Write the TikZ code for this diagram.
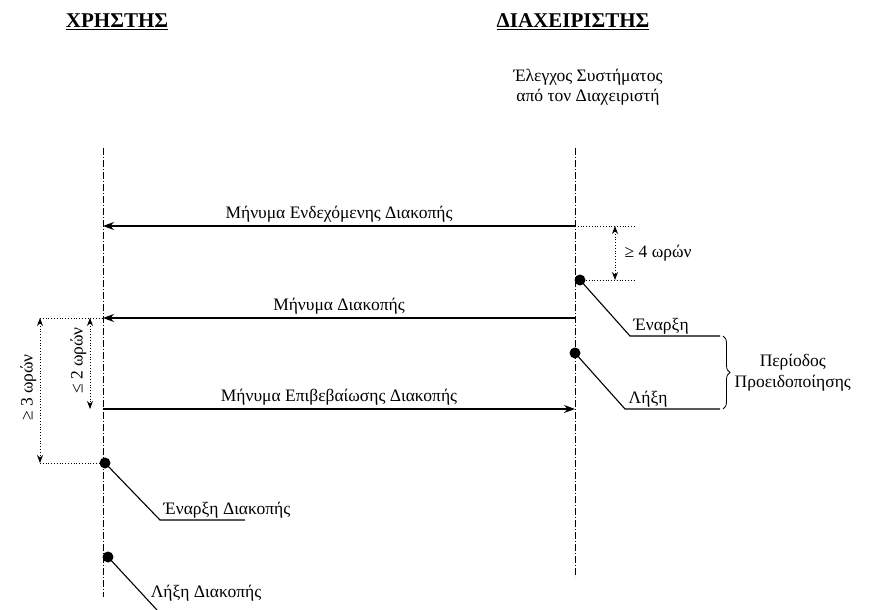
\documentclass[tikz,border=0pt]{standalone}
\usepackage{fontspec}
\setmainfont{Liberation Serif}
\usepackage{tikz}
\usetikzlibrary{arrows.meta,positioning,decorations.pathreplacing}

\begin{document}
\begin{tikzpicture}[x=1pt,y=-1pt,thick,
                    font=\fontsize{17.5}{20.5}\selectfont,
                    lifeline/.style={thin,dash pattern=on 7pt off 2pt on 1pt off 2pt},
                    msg/.style={-{Stealth[length=11pt,width=8pt]},line width=1.2pt},
                    gap/.style={dotted,thick},
                    span/.style={dotted,thick,{Stealth[length=8pt,width=6pt]}-{Stealth[length=8pt,width=6pt]}},
                    leader/.style={line width=1.1pt},
                    event/.style={circle,fill,inner sep=0pt,minimum size=11pt},
                    header/.style={font=\fontsize{21}{24}\selectfont\bfseries}
                    ]
  \useasboundingbox (0,0) rectangle (886,610);

  % headers
  \node[header] (user) at (117,22) {\underline{ΧΡΗΣΤΗΣ}};
  \node[header] (admin) at (573,22) {\underline{ΔΙΑΧΕΙΡΙΣΤΗΣ}};
  \node[align=center] (check) at (588,87) {Έλεγχος Συστήματος\\από τον Διαχειριστή};

  % lifelines
  \coordinate (u top) at (103,148);
  \coordinate (u bot) at (103,597);
  \coordinate (a top) at (575,148);
  \coordinate (a bot) at (575,577);
  \draw[lifeline] (u top) -- (u bot);
  \draw[lifeline] (a top) -- (a bot);

  % messages
  \coordinate (m1 a) at (575,226);
  \coordinate (m1 u) at (103,226);
  \coordinate (m2 a) at (575,318);
  \coordinate (m2 u) at (103,318);
  \coordinate (m3 u) at (103,409);
  \coordinate (m3 a) at (575,409);
  \draw[msg] (m1 a) -- node[above] {Μήνυμα Ενδεχόμενης Διακοπής} (m1 u);
  \draw[msg] (m2 a) -- node[above] {Μήνυμα Διακοπής} (m2 u);
  \draw[msg] (m3 u) -- node[above] {Μήνυμα Επιβεβαίωσης Διακοπής} (m3 a);

  % warning period on the admin side
  \node[event] (start) at (580,280) {};
  \node[event] (end) at (575,353) {};
  \coordinate (start knee) at (630,336);
  \coordinate (start tail) at (720,336);
  \coordinate (end knee) at (625,409);
  \coordinate (end tail) at (720,409);
  \draw[leader] (start.center) -- (start knee) -- (start tail);
  \draw[leader] (end.center) -- (end knee) -- (end tail);
  \node[above right=-2pt and 0pt of start knee] (start lbl) {Έναρξη};
  \node[above right=-2pt and 0pt of end knee] (end lbl) {Λήξη};
  \draw[thick,decorate,decoration={brace,amplitude=7pt}] (723,336) -- (723,409)
    node[midway,right=8pt,align=center] (period) {Περίοδος\\Προειδοποίησης};

  % at least four hours
  \coordinate (g4 top) at (635,226);
  \coordinate (g4 bot) at (635,280);
  \coordinate (g4 a) at (615,226);
  \coordinate (g4 b) at (615,280);
  \draw[gap] (m1 a) -- (g4 top);
  \draw[gap] (start) -- (g4 bot);
  \draw[span] (g4 a) -- node[right=6pt] (g4 lbl) {≥ 4 ωρών} (g4 b);

  % outage on the user side
  \node[event] (out start) at (105,463) {};
  \node[event] (out end) at (108,557) {};
  \coordinate (out start knee) at (160,520);
  \coordinate (out start tail) at (245,520);
  \coordinate (out end knee) at (157,610);
  \draw[leader] (out start.center) -- (out start knee) -- (out start tail);
  \draw[leader] (out end.center) -- (out end knee);
  \node[above right=-2pt and 0pt of out start knee] (out start lbl) {Έναρξη Διακοπής};
  \node (out end lbl) at (206,593) {Λήξη Διακοπής};

  % hour spans
  \coordinate (g3 top) at (40,318);
  \coordinate (g3 bot) at (40,463);
  \coordinate (g2 top) at (90,318);
  \coordinate (g2 bot) at (90,409);
  \draw[gap] (g3 top) -- (m2 u);
  \draw[gap] (g3 bot) -- (out start);
  \draw[span] (g3 top) -- node[rotate=90,above=3pt] (g3 lbl) {≥ 3 ωρών} (g3 bot);
  \draw[span] (g2 top) -- node[rotate=90,above=3pt] (g2 lbl) {≤ 2 ωρών} (g2 bot);
\end{tikzpicture}
\end{document}
